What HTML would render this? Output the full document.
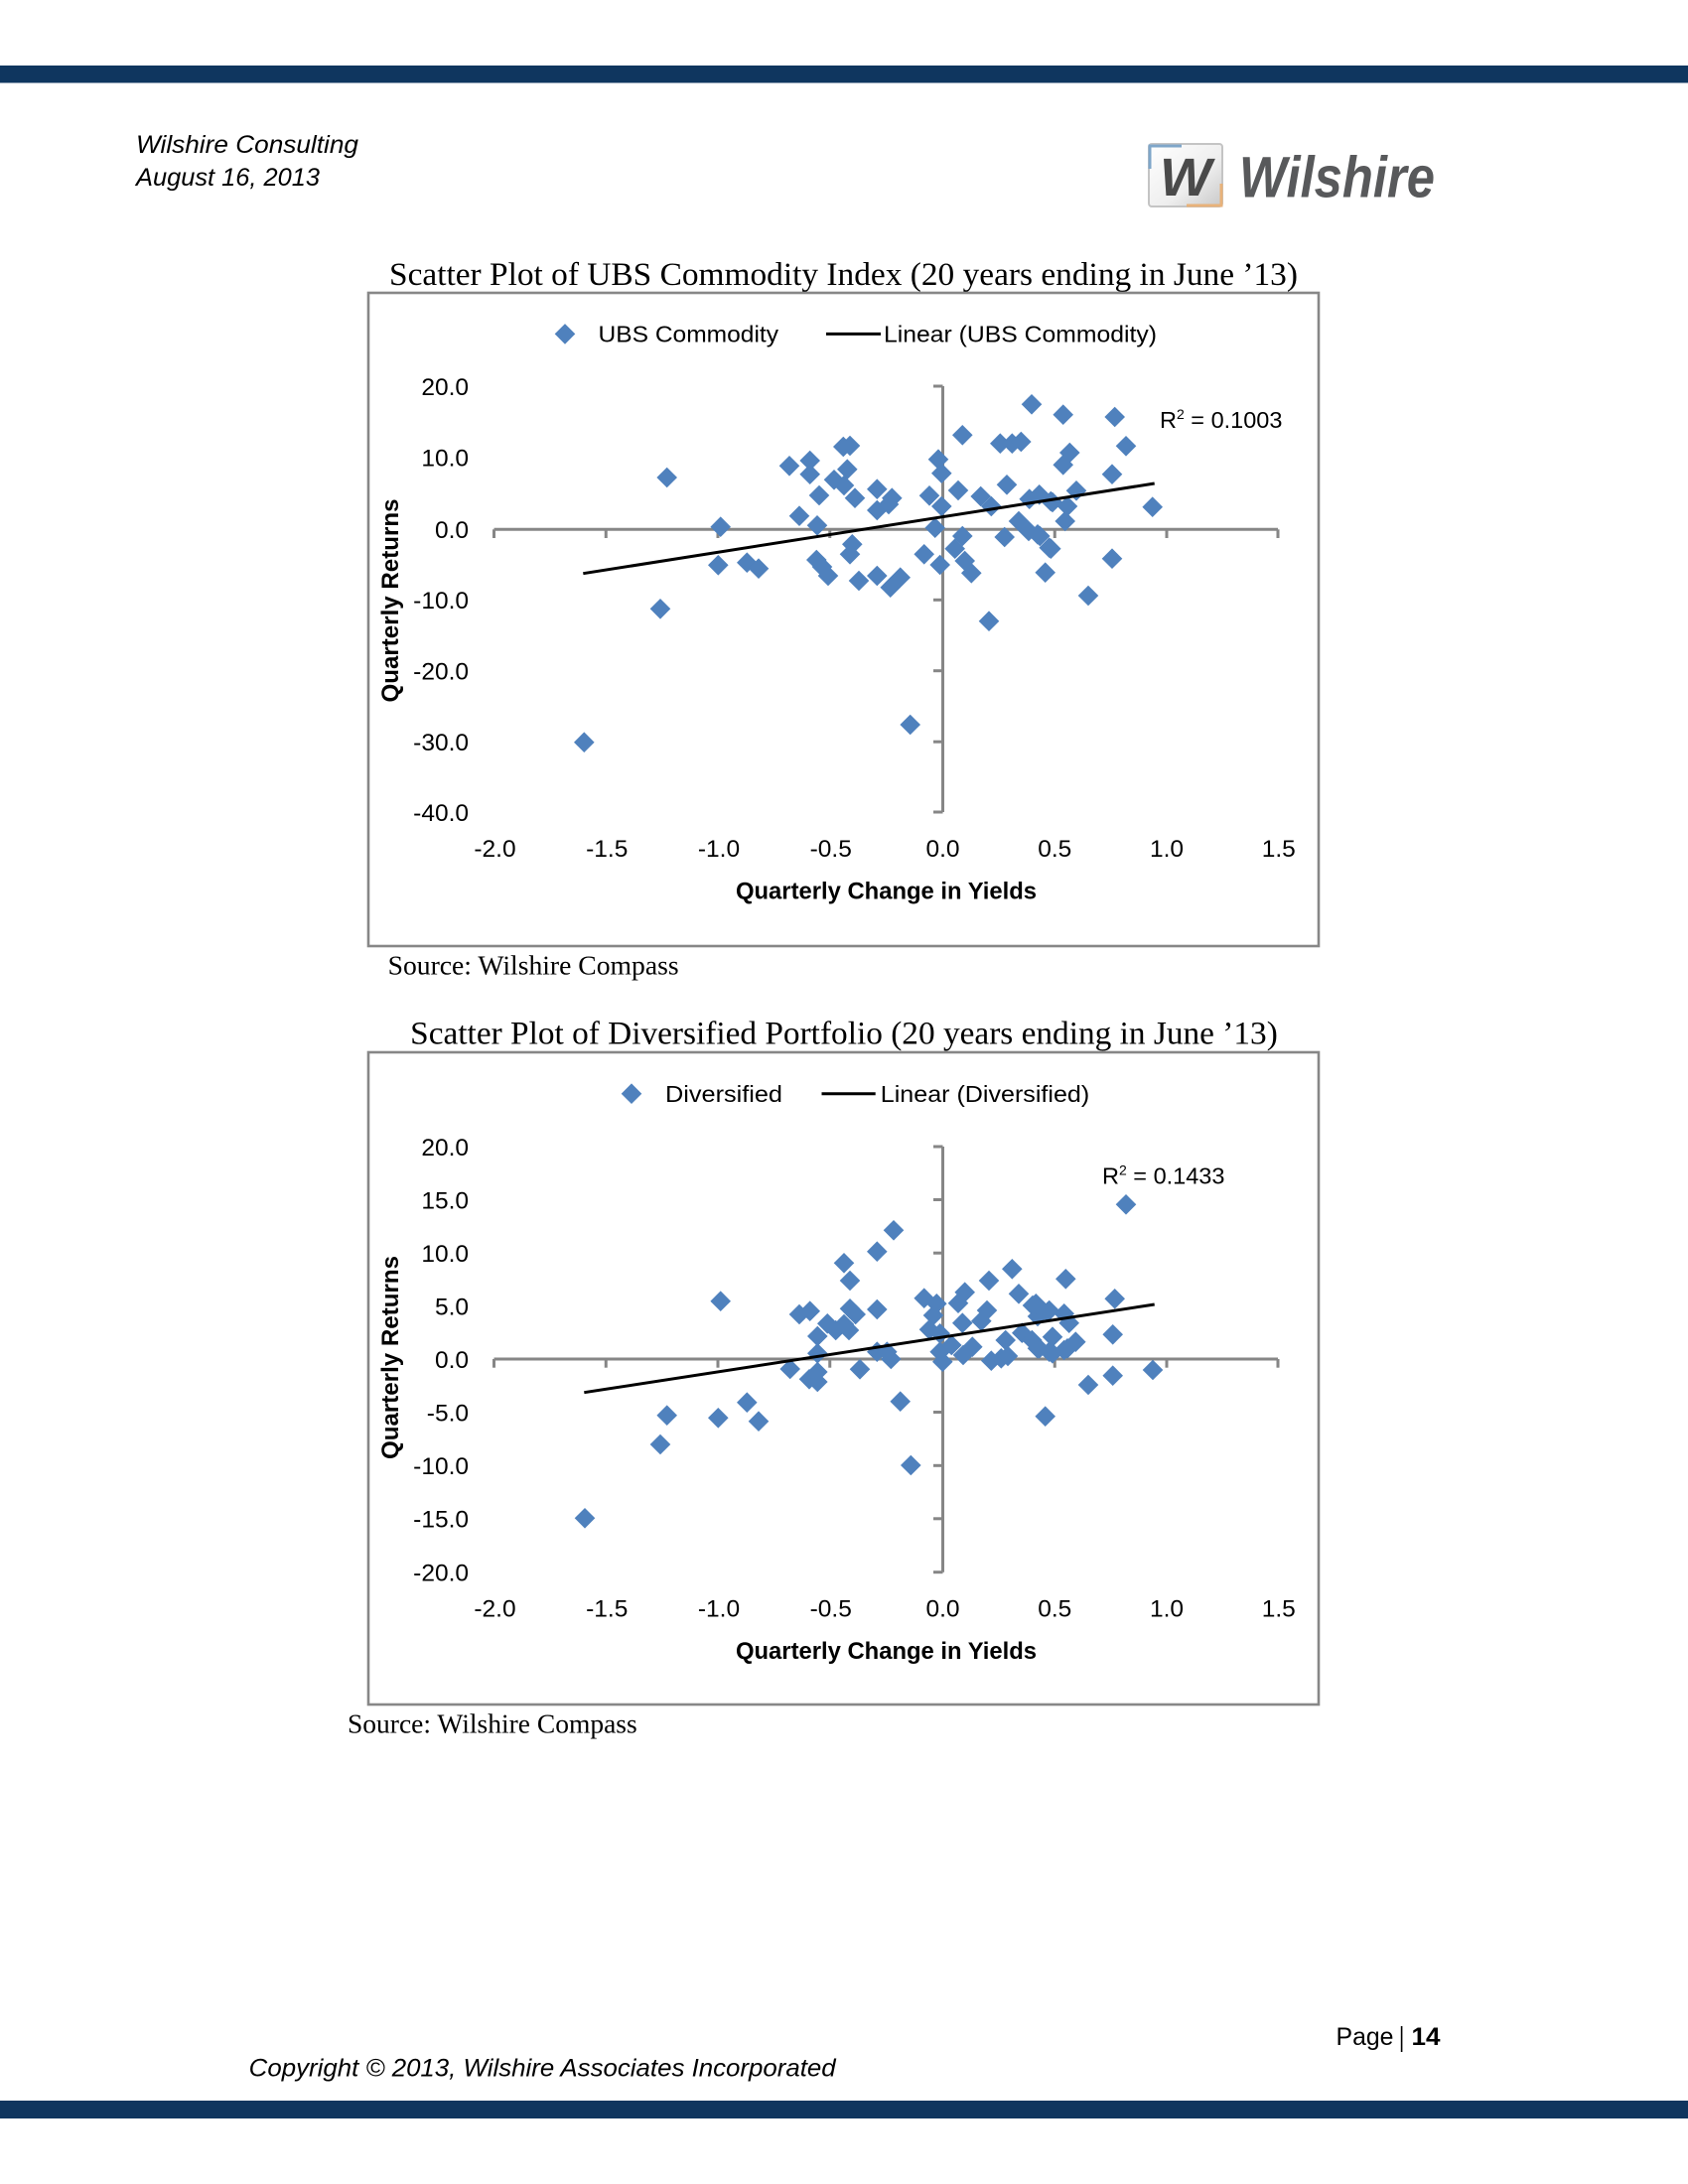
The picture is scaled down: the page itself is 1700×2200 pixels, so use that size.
<!DOCTYPE html>
<html>
<head>
<meta charset="utf-8">
<style>
html,body{margin:0;padding:0;background:#fff;}
svg{display:block;}
.sans{font-family:"Liberation Sans",sans-serif;}
.serif{font-family:"Liberation Serif",serif;}
.tick{font-family:"Liberation Sans",sans-serif;font-size:24.5px;fill:#000;}
</style>
</head>
<body>
<svg width="1700" height="2200" viewBox="0 0 1700 2200" xmlns="http://www.w3.org/2000/svg" xmlns:xlink="http://www.w3.org/1999/xlink">
<defs>
  <path id="d" d="M0,-10.3 L10.3,0 L0,10.3 L-10.3,0Z" fill="#4F81BD"/>
  <linearGradient id="lg" x1="0" y1="0" x2="1" y2="1">
    <stop offset="0" stop-color="#ffffff"/>
    <stop offset="0.6" stop-color="#eeeeee"/>
    <stop offset="1" stop-color="#c8c8c8"/>
  </linearGradient>
</defs>

<!-- header bar -->
<rect x="0" y="66" width="1700" height="17.5" fill="#0F365F"/>

<!-- header text -->
<text class="sans" x="137" y="154" font-size="25" font-style="italic" textLength="224" lengthAdjust="spacingAndGlyphs">Wilshire Consulting</text>
<text class="sans" x="137" y="187" font-size="25" font-style="italic" textLength="185" lengthAdjust="spacingAndGlyphs">August 16, 2013</text>

<!-- logo -->
<rect x="1157" y="145" width="74" height="63" rx="3" fill="url(#lg)" stroke="#c4c4c4" stroke-width="2"/>
<path d="M1158,170 L1158,147 L1190,147" fill="none" stroke="#7fa6c9" stroke-width="3"/>
<path d="M1195,207 L1230,207 L1230,185" fill="none" stroke="#e8b27a" stroke-width="3"/>
<text class="sans" x="1194" y="197" font-size="54" font-weight="bold" font-style="italic" fill="#4a4a4a" text-anchor="middle" textLength="52" lengthAdjust="spacingAndGlyphs">W</text>
<text class="sans" x="1248" y="198.3" font-size="58" font-weight="bold" font-style="italic" fill="#58595b" textLength="197" lengthAdjust="spacingAndGlyphs">Wilshire</text>

<!-- ================= CHART 1 ================= -->
<text class="serif" x="849.5" y="287" font-size="33" text-anchor="middle" textLength="915" lengthAdjust="spacingAndGlyphs">Scatter Plot of UBS Commodity Index (20 years ending in June ’13)</text>
<rect x="371" y="295" width="957" height="658" fill="none" stroke="#878787" stroke-width="2.6"/>

<!-- legend -->
<use href="#d" xlink:href="#d" x="569" y="336.4"/>
<text class="sans" x="602.5" y="344.6" font-size="23" textLength="181.5" lengthAdjust="spacingAndGlyphs">UBS Commodity</text>
<line x1="832" y1="336.4" x2="887" y2="336.4" stroke="#000" stroke-width="3"/>
<text class="sans" x="890" y="344.6" font-size="23" textLength="275" lengthAdjust="spacingAndGlyphs">Linear (UBS Commodity)</text>

<!-- axes -->
<g stroke="#868686" stroke-width="3" fill="none">
  <line x1="497.5" y1="533.3" x2="1287" y2="533.3"/>
  <line x1="949.5" y1="389" x2="949.5" y2="818"/>
  <line x1="497.5" y1="533.3" x2="497.5" y2="542"/>
  <line x1="610.25" y1="533.3" x2="610.25" y2="542"/>
  <line x1="723" y1="533.3" x2="723" y2="542"/>
  <line x1="835.75" y1="533.3" x2="835.75" y2="542"/>
  <line x1="1062.25" y1="533.3" x2="1062.25" y2="542"/>
  <line x1="1175" y1="533.3" x2="1175" y2="542"/>
  <line x1="1287" y1="533.3" x2="1287" y2="542"/>
  <line x1="940" y1="389" x2="949.5" y2="389"/>
  <line x1="940" y1="460.6" x2="949.5" y2="460.6"/>
  <line x1="940" y1="604.3" x2="949.5" y2="604.3"/>
  <line x1="940" y1="675.7" x2="949.5" y2="675.7"/>
  <line x1="940" y1="747.2" x2="949.5" y2="747.2"/>
  <line x1="940" y1="818" x2="949.5" y2="818"/>
</g>

<!-- y tick labels -->
<g class="tick" text-anchor="end">
  <text x="472" y="397.8">20.0</text>
  <text x="472" y="469.4">10.0</text>
  <text x="472" y="542.1">0.0</text>
  <text x="472" y="613.1">-10.0</text>
  <text x="472" y="684.5">-20.0</text>
  <text x="472" y="756">-30.0</text>
  <text x="472" y="826.8">-40.0</text>
</g>
<!-- x tick labels -->
<g class="tick" text-anchor="middle">
  <text x="498.5" y="862.8">-2.0</text>
  <text x="611.25" y="862.8">-1.5</text>
  <text x="724" y="862.8">-1.0</text>
  <text x="836.75" y="862.8">-0.5</text>
  <text x="949.5" y="862.8">0.0</text>
  <text x="1062.25" y="862.8">0.5</text>
  <text x="1175" y="862.8">1.0</text>
  <text x="1287.75" y="862.8">1.5</text>
</g>
<text class="sans" x="892.5" y="905.3" font-size="24" font-weight="bold" text-anchor="middle" textLength="303" lengthAdjust="spacingAndGlyphs">Quarterly Change in Yields</text>
<text class="sans" transform="translate(401,605) rotate(-90)" x="0" y="0" font-size="24" font-weight="bold" text-anchor="middle" textLength="205" lengthAdjust="spacingAndGlyphs">Quarterly Returns</text>

<!-- points chart 1 -->
<g>
<use href="#d" xlink:href="#d" x="588.3" y="747.7"/>
<use href="#d" xlink:href="#d" x="671.7" y="481"/>
<use href="#d" xlink:href="#d" x="665" y="613.3"/>
<use href="#d" xlink:href="#d" x="725.7" y="530.7"/>
<use href="#d" xlink:href="#d" x="723.3" y="569.3"/>
<use href="#d" xlink:href="#d" x="752.3" y="566.7"/>
<use href="#d" xlink:href="#d" x="764" y="572.7"/>
<use href="#d" xlink:href="#d" x="795" y="469.3"/>
<use href="#d" xlink:href="#d" x="815.7" y="464"/>
<use href="#d" xlink:href="#d" x="815.7" y="477.7"/>
<use href="#d" xlink:href="#d" x="805" y="519.7"/>
<use href="#d" xlink:href="#d" x="825" y="499"/>
<use href="#d" xlink:href="#d" x="823" y="529.3"/>
<use href="#d" xlink:href="#d" x="822.3" y="564"/>
<use href="#d" xlink:href="#d" x="828" y="571"/>
<use href="#d" xlink:href="#d" x="834" y="580"/>
<use href="#d" xlink:href="#d" x="849.3" y="450"/>
<use href="#d" xlink:href="#d" x="856" y="449"/>
<use href="#d" xlink:href="#d" x="853.3" y="472.7"/>
<use href="#d" xlink:href="#d" x="840" y="483.3"/>
<use href="#d" xlink:href="#d" x="850" y="489"/>
<use href="#d" xlink:href="#d" x="861" y="501.7"/>
<use href="#d" xlink:href="#d" x="883.3" y="492.7"/>
<use href="#d" xlink:href="#d" x="883.3" y="514"/>
<use href="#d" xlink:href="#d" x="898.3" y="501.7"/>
<use href="#d" xlink:href="#d" x="895" y="508"/>
<use href="#d" xlink:href="#d" x="858.3" y="548.3"/>
<use href="#d" xlink:href="#d" x="856" y="558.3"/>
<use href="#d" xlink:href="#d" x="865" y="585"/>
<use href="#d" xlink:href="#d" x="883.3" y="580"/>
<use href="#d" xlink:href="#d" x="896.7" y="591.7"/>
<use href="#d" xlink:href="#d" x="906.7" y="581.7"/>
<use href="#d" xlink:href="#d" x="916.7" y="730"/>
<use href="#d" xlink:href="#d" x="930.7" y="558.3"/>
<use href="#d" xlink:href="#d" x="946.7" y="569"/>
<use href="#d" xlink:href="#d" x="941.7" y="531.7"/>
<use href="#d" xlink:href="#d" x="936" y="499.3"/>
<use href="#d" xlink:href="#d" x="948.3" y="510"/>
<use href="#d" xlink:href="#d" x="945" y="462.7"/>
<use href="#d" xlink:href="#d" x="948.3" y="476.7"/>
<use href="#d" xlink:href="#d" x="969.3" y="438.3"/>
<use href="#d" xlink:href="#d" x="965" y="494"/>
<use href="#d" xlink:href="#d" x="969.3" y="540"/>
<use href="#d" xlink:href="#d" x="961.7" y="552.7"/>
<use href="#d" xlink:href="#d" x="971.7" y="565"/>
<use href="#d" xlink:href="#d" x="978.3" y="577.3"/>
<use href="#d" xlink:href="#d" x="996" y="625.7"/>
<use href="#d" xlink:href="#d" x="987.7" y="500"/>
<use href="#d" xlink:href="#d" x="998.3" y="510"/>
<use href="#d" xlink:href="#d" x="1007.3" y="446.7"/>
<use href="#d" xlink:href="#d" x="1019.3" y="446.7"/>
<use href="#d" xlink:href="#d" x="1028.3" y="445"/>
<use href="#d" xlink:href="#d" x="1014" y="488.3"/>
<use href="#d" xlink:href="#d" x="1011.7" y="541"/>
<use href="#d" xlink:href="#d" x="1026" y="525"/>
<use href="#d" xlink:href="#d" x="1036" y="535"/>
<use href="#d" xlink:href="#d" x="1039" y="407.3"/>
<use href="#d" xlink:href="#d" x="1036.7" y="502.7"/>
<use href="#d" xlink:href="#d" x="1046.7" y="498.3"/>
<use href="#d" xlink:href="#d" x="1047.3" y="540"/>
<use href="#d" xlink:href="#d" x="1052.7" y="576.7"/>
<use href="#d" xlink:href="#d" x="1056.7" y="551.7"/>
<use href="#d" xlink:href="#d" x="1058.3" y="505"/>
<use href="#d" xlink:href="#d" x="1070.7" y="417.7"/>
<use href="#d" xlink:href="#d" x="1122.7" y="420"/>
<use href="#d" xlink:href="#d" x="1134" y="449.3"/>
<use href="#d" xlink:href="#d" x="1077.3" y="456"/>
<use href="#d" xlink:href="#d" x="1070.7" y="468.3"/>
<use href="#d" xlink:href="#d" x="1120" y="477.7"/>
<use href="#d" xlink:href="#d" x="1160.7" y="510.7"/>
<use href="#d" xlink:href="#d" x="1060" y="506"/>
<use href="#d" xlink:href="#d" x="1084" y="494.3"/>
<use href="#d" xlink:href="#d" x="1075" y="510"/>
<use href="#d" xlink:href="#d" x="1072.7" y="525"/>
<use href="#d" xlink:href="#d" x="1045" y="538.3"/>
<use href="#d" xlink:href="#d" x="1058.3" y="552.7"/>
<use href="#d" xlink:href="#d" x="1120" y="562.7"/>
<use href="#d" xlink:href="#d" x="1096" y="600"/>
</g>
<line x1="587.3" y1="577.7" x2="1162.7" y2="487" stroke="#000" stroke-width="3"/>
<text class="sans" x="1168" y="431" font-size="23.5">R<tspan font-size="14" dy="-9">2</tspan><tspan dy="9"> = 0.1003</tspan></text>

<text class="serif" x="390.6" y="981.7" font-size="27" textLength="293" lengthAdjust="spacingAndGlyphs">Source: Wilshire Compass</text>

<!-- ================= CHART 2 ================= -->
<text class="serif" x="850" y="1051.7" font-size="33" text-anchor="middle" textLength="873.6" lengthAdjust="spacingAndGlyphs">Scatter Plot of Diversified Portfolio (20 years ending in June ’13)</text>
<rect x="371" y="1060" width="957" height="657" fill="none" stroke="#878787" stroke-width="2.6"/>

<use href="#d" xlink:href="#d" x="636" y="1101.7"/>
<text class="sans" x="670" y="1109.9" font-size="23" textLength="118" lengthAdjust="spacingAndGlyphs">Diversified</text>
<line x1="827.5" y1="1101.7" x2="881.7" y2="1101.7" stroke="#000" stroke-width="3"/>
<text class="sans" x="886.8" y="1109.9" font-size="23" textLength="210.4" lengthAdjust="spacingAndGlyphs">Linear (Diversified)</text>

<g stroke="#868686" stroke-width="3" fill="none">
  <line x1="497.5" y1="1369" x2="1287" y2="1369"/>
  <line x1="949.5" y1="1155" x2="949.5" y2="1583.7"/>
  <line x1="497.5" y1="1369" x2="497.5" y2="1377.7"/>
  <line x1="610.25" y1="1369" x2="610.25" y2="1377.7"/>
  <line x1="723" y1="1369" x2="723" y2="1377.7"/>
  <line x1="835.75" y1="1369" x2="835.75" y2="1377.7"/>
  <line x1="1062.25" y1="1369" x2="1062.25" y2="1377.7"/>
  <line x1="1175" y1="1369" x2="1175" y2="1377.7"/>
  <line x1="1287" y1="1369" x2="1287" y2="1377.7"/>
  <line x1="940" y1="1155" x2="949.5" y2="1155"/>
  <line x1="940" y1="1208.5" x2="949.5" y2="1208.5"/>
  <line x1="940" y1="1262.2" x2="949.5" y2="1262.2"/>
  <line x1="940" y1="1315.7" x2="949.5" y2="1315.7"/>
  <line x1="940" y1="1422.5" x2="949.5" y2="1422.5"/>
  <line x1="940" y1="1476.3" x2="949.5" y2="1476.3"/>
  <line x1="940" y1="1529.8" x2="949.5" y2="1529.8"/>
  <line x1="940" y1="1583.7" x2="949.5" y2="1583.7"/>
</g>

<g class="tick" text-anchor="end">
  <text x="472" y="1163.8">20.0</text>
  <text x="472" y="1217.3">15.0</text>
  <text x="472" y="1271">10.0</text>
  <text x="472" y="1324.5">5.0</text>
  <text x="472" y="1378.1">0.0</text>
  <text x="472" y="1431.3">-5.0</text>
  <text x="472" y="1485.1">-10.0</text>
  <text x="472" y="1538.6">-15.0</text>
  <text x="472" y="1592.5">-20.0</text>
</g>
<g class="tick" text-anchor="middle">
  <text x="498.5" y="1628.5">-2.0</text>
  <text x="611.25" y="1628.5">-1.5</text>
  <text x="724" y="1628.5">-1.0</text>
  <text x="836.75" y="1628.5">-0.5</text>
  <text x="949.5" y="1628.5">0.0</text>
  <text x="1062.25" y="1628.5">0.5</text>
  <text x="1175" y="1628.5">1.0</text>
  <text x="1287.75" y="1628.5">1.5</text>
</g>
<text class="sans" x="892.5" y="1671" font-size="24" font-weight="bold" text-anchor="middle" textLength="303" lengthAdjust="spacingAndGlyphs">Quarterly Change in Yields</text>
<text class="sans" transform="translate(401,1367.5) rotate(-90)" x="0" y="0" font-size="24" font-weight="bold" text-anchor="middle" textLength="205" lengthAdjust="spacingAndGlyphs">Quarterly Returns</text>

<g>
<use href="#d" xlink:href="#d" x="589" y="1529.3"/>
<use href="#d" xlink:href="#d" x="665" y="1455"/>
<use href="#d" xlink:href="#d" x="671.7" y="1425.7"/>
<use href="#d" xlink:href="#d" x="725.7" y="1310.7"/>
<use href="#d" xlink:href="#d" x="723.3" y="1428.3"/>
<use href="#d" xlink:href="#d" x="752.3" y="1412.7"/>
<use href="#d" xlink:href="#d" x="764" y="1431.7"/>
<use href="#d" xlink:href="#d" x="795.7" y="1379"/>
<use href="#d" xlink:href="#d" x="805" y="1324"/>
<use href="#d" xlink:href="#d" x="815.7" y="1320.7"/>
<use href="#d" xlink:href="#d" x="815" y="1389.3"/>
<use href="#d" xlink:href="#d" x="823.3" y="1392"/>
<use href="#d" xlink:href="#d" x="823.3" y="1382"/>
<use href="#d" xlink:href="#d" x="823.3" y="1363.3"/>
<use href="#d" xlink:href="#d" x="823.3" y="1346"/>
<use href="#d" xlink:href="#d" x="833.3" y="1333.3"/>
<use href="#d" xlink:href="#d" x="841.7" y="1340"/>
<use href="#d" xlink:href="#d" x="850" y="1272.3"/>
<use href="#d" xlink:href="#d" x="856" y="1290"/>
<use href="#d" xlink:href="#d" x="856" y="1318.3"/>
<use href="#d" xlink:href="#d" x="850" y="1334"/>
<use href="#d" xlink:href="#d" x="855" y="1340"/>
<use href="#d" xlink:href="#d" x="861.7" y="1324"/>
<use href="#d" xlink:href="#d" x="866" y="1379.3"/>
<use href="#d" xlink:href="#d" x="883.3" y="1260.7"/>
<use href="#d" xlink:href="#d" x="900" y="1239.3"/>
<use href="#d" xlink:href="#d" x="883.3" y="1319"/>
<use href="#d" xlink:href="#d" x="883.3" y="1361.7"/>
<use href="#d" xlink:href="#d" x="897.3" y="1369"/>
<use href="#d" xlink:href="#d" x="893.3" y="1361.7"/>
<use href="#d" xlink:href="#d" x="906.7" y="1411.7"/>
<use href="#d" xlink:href="#d" x="917.3" y="1476"/>
<use href="#d" xlink:href="#d" x="930.7" y="1307.7"/>
<use href="#d" xlink:href="#d" x="943.3" y="1313.3"/>
<use href="#d" xlink:href="#d" x="940" y="1325"/>
<use href="#d" xlink:href="#d" x="936" y="1339.3"/>
<use href="#d" xlink:href="#d" x="946.7" y="1343.3"/>
<use href="#d" xlink:href="#d" x="949.3" y="1371.7"/>
<use href="#d" xlink:href="#d" x="946.7" y="1361.7"/>
<use href="#d" xlink:href="#d" x="958.3" y="1355"/>
<use href="#d" xlink:href="#d" x="965" y="1312.7"/>
<use href="#d" xlink:href="#d" x="971.7" y="1301.7"/>
<use href="#d" xlink:href="#d" x="969.3" y="1332.7"/>
<use href="#d" xlink:href="#d" x="970" y="1365"/>
<use href="#d" xlink:href="#d" x="979.3" y="1356.7"/>
<use href="#d" xlink:href="#d" x="996" y="1290"/>
<use href="#d" xlink:href="#d" x="994" y="1320"/>
<use href="#d" xlink:href="#d" x="988.3" y="1330.7"/>
<use href="#d" xlink:href="#d" x="998.3" y="1370.7"/>
<use href="#d" xlink:href="#d" x="1008.3" y="1368.3"/>
<use href="#d" xlink:href="#d" x="1012.7" y="1350"/>
<use href="#d" xlink:href="#d" x="1015" y="1366"/>
<use href="#d" xlink:href="#d" x="1019.3" y="1278.3"/>
<use href="#d" xlink:href="#d" x="1026" y="1303.3"/>
<use href="#d" xlink:href="#d" x="1029.3" y="1342.7"/>
<use href="#d" xlink:href="#d" x="1040" y="1315"/>
<use href="#d" xlink:href="#d" x="1045" y="1326"/>
<use href="#d" xlink:href="#d" x="1039.3" y="1350"/>
<use href="#d" xlink:href="#d" x="1046.7" y="1358.3"/>
<use href="#d" xlink:href="#d" x="1052.7" y="1426.7"/>
<use href="#d" xlink:href="#d" x="1056.7" y="1320"/>
<use href="#d" xlink:href="#d" x="1056.7" y="1361.7"/>
<use href="#d" xlink:href="#d" x="1134" y="1213.3"/>
<use href="#d" xlink:href="#d" x="1073.3" y="1288.3"/>
<use href="#d" xlink:href="#d" x="1122.7" y="1308.3"/>
<use href="#d" xlink:href="#d" x="1120.7" y="1344.3"/>
<use href="#d" xlink:href="#d" x="1071.7" y="1323.3"/>
<use href="#d" xlink:href="#d" x="1076.7" y="1332.7"/>
<use href="#d" xlink:href="#d" x="1055" y="1321.7"/>
<use href="#d" xlink:href="#d" x="1043.3" y="1313.3"/>
<use href="#d" xlink:href="#d" x="1060" y="1346.7"/>
<use href="#d" xlink:href="#d" x="1083.3" y="1351.7"/>
<use href="#d" xlink:href="#d" x="1075" y="1358.3"/>
<use href="#d" xlink:href="#d" x="1045" y="1358.3"/>
<use href="#d" xlink:href="#d" x="1060" y="1363.3"/>
<use href="#d" xlink:href="#d" x="1071.7" y="1360"/>
<use href="#d" xlink:href="#d" x="1161" y="1380"/>
<use href="#d" xlink:href="#d" x="1120.7" y="1385.7"/>
<use href="#d" xlink:href="#d" x="1096" y="1395"/>
</g>
<line x1="588.3" y1="1402.7" x2="1162.7" y2="1314" stroke="#000" stroke-width="3"/>
<text class="sans" x="1110" y="1192.7" font-size="23.5">R<tspan font-size="14" dy="-9">2</tspan><tspan dy="9"> = 0.1433</tspan></text>

<text class="serif" x="350" y="1745.7" font-size="27" textLength="291.7" lengthAdjust="spacingAndGlyphs">Source: Wilshire Compass</text>

<!-- footer -->
<text class="sans" x="1345.5" y="2060" font-size="25" textLength="58" lengthAdjust="spacingAndGlyphs">Page</text>
<line x1="1411.6" y1="2041" x2="1411.6" y2="2067" stroke="#000" stroke-width="1.6"/>
<text class="sans" x="1421.5" y="2060" font-size="25" font-weight="bold" textLength="29" lengthAdjust="spacingAndGlyphs">14</text>
<text class="sans" x="250.7" y="2091.7" font-size="25" font-style="italic" textLength="591" lengthAdjust="spacingAndGlyphs">Copyright © 2013, Wilshire Associates Incorporated</text>

<rect x="0" y="2116" width="1700" height="18" fill="#0F365F"/>
</svg>
</body>
</html>
